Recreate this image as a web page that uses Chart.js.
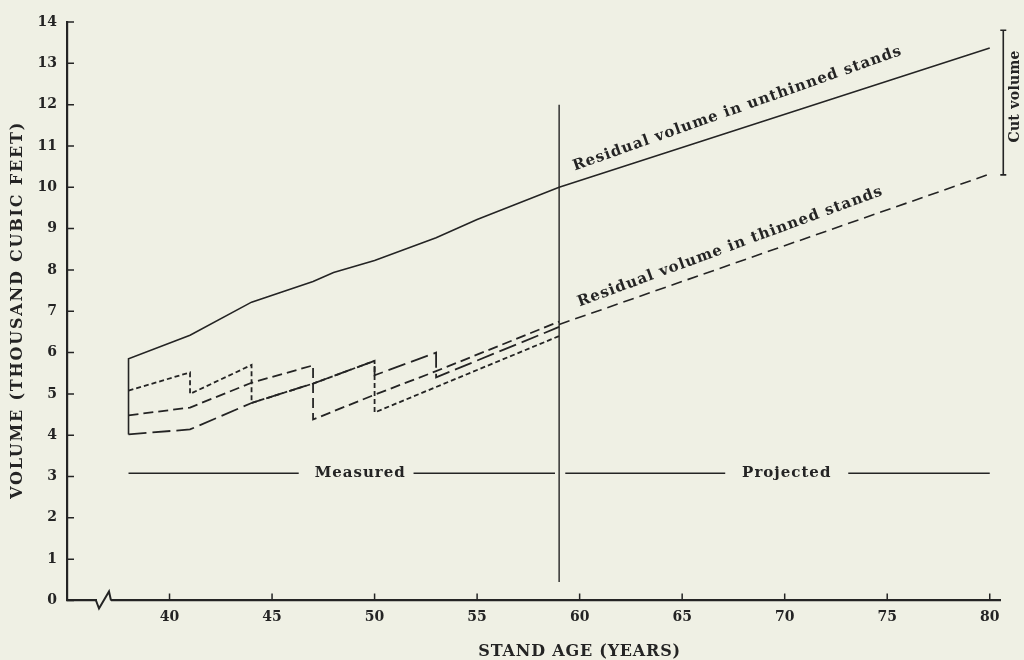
<!DOCTYPE html>
<html lang="en">
<head>
<meta charset="UTF-8">
<title>Stand volume</title>
<script src="https://cdn.jsdelivr.net/npm/chart.js"></script>
<style>
    body { margin: 0; background: #eff0e4; }
    .grafico { width: 1024px; height: 660px; }
</style>
</head>
<body>

<div class="grafico"><canvas id="grafico_1"></canvas></div>

<script>
    // values (age in years, volume in thousand cubic feet)
    const ageTicks = [40, 45, 50, 55, 60, 65, 70, 75, 80];

    const unthinnedAge = [38, 38, 41, 44, 47, 48, 50, 53, 55, 59, 80];
    const unthinnedVol = [4.02, 5.85, 6.42, 7.22, 7.72, 7.94, 8.23, 8.78, 9.22, 10.0, 13.37];

    const thinnedProjAge = [59, 80];
    const thinnedProjVol = [6.68, 10.32];

    const plotAAge = [38, 41, 41, 44, 44, 47, 50, 50, 59];
    const plotAVol = [5.08, 5.52, 5.0, 5.7, 4.78, 5.25, 5.8, 4.55, 6.4];

    const plotBAge = [38, 41, 44, 47, 47, 50, 53, 59];
    const plotBVol = [4.48, 4.67, 5.27, 5.69, 4.38, 4.98, 5.55, 6.75];

    const plotCAge = [38, 41, 44, 47, 50, 50, 53, 53, 59];
    const plotCVol = [4.02, 4.14, 4.78, 5.25, 5.8, 5.45, 6.0, 5.4, 6.62];

    const dividerAge = [59, 59];
    const dividerVol = [12.0, 0.45];

    const phaseAge = [38, 46.3, 47, 51.9, 58.8, 59, 59.3, 67.1, 68, 73.1, 80];
    const phaseVol = [3.08, 3.08, null, 3.08, 3.08, null, 3.08, 3.08, null, 3.08, 3.08];

    const tinta = '#242424';
    const fundo = '#eff0e4';
    const fonte = '"DejaVu Serif", "Liberation Serif", serif';

    const pts = (xs, ys) => xs.map((x, i) => ({ x: x, y: ys[i] }));

    function serie(xs, ys, dash, width) {
        return {
            data: pts(xs, ys),
            borderColor: tinta,
            borderWidth: width,
            borderDash: dash,
            pointRadius: 0,
            tension: 0,
            spanGaps: false,
            fill: false
        };
    }

    function texto(c, str, x, y, ang, font, spacing) {
        c.save();
        c.translate(x, y);
        c.rotate(ang * Math.PI / 180);
        c.font = font;
        c.letterSpacing = spacing || '0px';
        c.textAlign = 'center';
        c.textBaseline = 'middle';
        c.fillText(str, 0, 0);
        c.restore();
    }

    const anotacoes = {
        id: 'anotacoes',
        afterDraw(chart) {
            const c = chart.ctx, sx = chart.scales.x, sy = chart.scales.y, a = chart.chartArea;
            const px = v => sx.getPixelForValue(v);
            const py = v => sy.getPixelForValue(v);
            c.save();
            c.strokeStyle = tinta;
            c.fillStyle = tinta;

            // ticks pointing inward
            c.lineWidth = 1.5;
            c.beginPath();
            sy.ticks.forEach(t => { c.moveTo(a.left, py(t.value)); c.lineTo(a.left + 7, py(t.value)); });
            sx.ticks.forEach(t => { c.moveTo(px(t.value), a.bottom); c.lineTo(px(t.value), a.bottom - 7); });
            c.stroke();

            // axis break
            c.fillStyle = fundo;
            c.fillRect(a.left + 30, a.bottom - 3, 14, 6);
            c.fillStyle = tinta;
            c.lineWidth = 2;
            c.beginPath();
            c.moveTo(a.left + 29, a.bottom);
            c.lineTo(a.left + 32, a.bottom + 8);
            c.lineTo(a.left + 42, a.bottom - 9);
            c.lineTo(a.left + 44, a.bottom);
            c.stroke();

            // cut volume bracket
            const bx = px(80.66);
            c.lineWidth = 1.6;
            c.beginPath();
            c.moveTo(bx, py(13.8)); c.lineTo(bx, py(10.3));
            c.moveTo(bx - 3, py(13.8)); c.lineTo(bx + 3, py(13.8));
            c.moveTo(bx - 3, py(10.3)); c.lineTo(bx + 3, py(10.3));
            c.stroke();

            const f14 = 'bold 14px ' + fonte;
            const f15 = 'bold 15px ' + fonte;
            texto(c, 'Cut volume', px(81.25), py(12.2), -90, f14, '0.3px');
            texto(c, 'Residual volume in unthinned stands', px(67.7), py(11.9), -19.5, f15, '1px');
            texto(c, 'Residual volume in thinned stands', px(67.35), py(8.56), -20.2, f15, '1px');
            texto(c, 'Measured', px(49.3), py(3.08), 0, f15, '1px');
            texto(c, 'Projected', px(70.1), py(3.08), 0, f15, '1px');

            // axis titles
            const f16 = 'bold 16px ' + fonte;
            texto(c, 'STAND AGE (YEARS)', px(60), a.bottom + 51, 0, f16, '0.8px');
            texto(c, 'VOLUME (THOUSAND CUBIC FEET)', 18, py(7.03), -90, f16, '1.8px');

            c.restore();
        }
    };

    const ctx = document.getElementById('grafico_1');

    const grafico_1 = new Chart(ctx, {
        type: 'line',
        data: {
            datasets: [
                serie(unthinnedAge, unthinnedVol, [], 1.6),
                serie(thinnedProjAge, thinnedProjVol, [11, 6], 1.6),
                serie(plotAAge, plotAVol, [5, 3], 1.8),
                serie(plotBAge, plotBVol, [10, 5], 1.8),
                serie(plotCAge, plotCVol, [18, 6], 1.8),
                serie(dividerAge, dividerVol, [], 1.4),
                serie(phaseAge, phaseVol, [], 1.3)
            ]
        },
        options: {
            responsive: true,
            maintainAspectRatio: false,
            animation: false,
            layout: { padding: { left: 0, top: 22, right: 24, bottom: 0 } },
            plugins: {
                legend: { display: false },
                tooltip: { enabled: false }
            },
            scales: {
                x: {
                    type: 'linear',
                    min: 35,
                    max: 80.5,
                    afterBuildTicks: s => { s.ticks = ageTicks.map(v => ({ value: v })); },
                    afterFit: s => { s.height = 59.5; },
                    grid: { drawOnChartArea: false, drawTicks: false },
                    border: { color: tinta, width: 2.2 },
                    ticks: { padding: 8, color: tinta, font: { family: fonte, size: 14, weight: 'bold' } }
                },
                y: {
                    min: 0,
                    max: 14,
                    afterFit: s => { s.width = 67; },
                    grid: { drawOnChartArea: false, drawTicks: false },
                    border: { color: tinta, width: 2.2 },
                    ticks: { stepSize: 1, padding: 10, color: tinta, font: { family: fonte, size: 14, weight: 'bold' } }
                }
            }
        },
        plugins: [anotacoes]
    });
</script>

</body>
</html>
